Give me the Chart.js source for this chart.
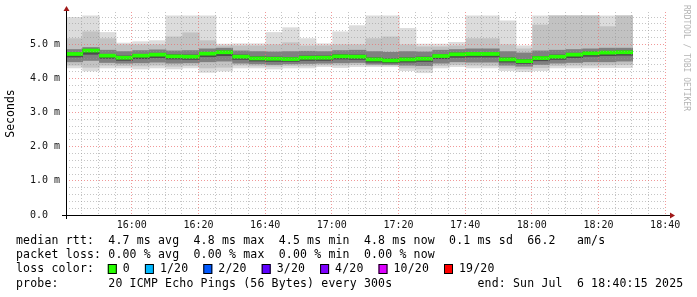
<!DOCTYPE html>
<html lang="en">
<head>
<meta charset="UTF-8">
<title>SmokePing - median rtt</title>
<script src="https://cdn.jsdelivr.net/npm/chart.js"></script>
<style>
  html, body { margin: 0; padding: 0; background: #fff; }
  #wrap { width: 697px; height: 297px; }
</style>
</head>
<body>
<div id="wrap"><canvas id="smoke" width="697" height="297"></canvas></div>
<script>
// time range of the graph, seconds since midnight
const startTime = 15 * 3600 + 40 * 60 + 15;   // 15:40:15
const endTime = 18 * 3600 + 40 * 60 + 15;     // 18:40:15
const stepSec = 300;                           // one probe round every 300s

// median rtt per round (ms)
const medianRtt = [4.72, 4.82, 4.67, 4.61, 4.67, 4.70, 4.65, 4.64, 4.73, 4.77, 4.64, 4.59, 4.58, 4.57, 4.61, 4.61, 4.65,
                   4.64, 4.56, 4.53, 4.56, 4.58, 4.66, 4.71, 4.72, 4.72, 4.56, 4.51, 4.60, 4.64, 4.70, 4.74, 4.76, 4.77];
// smoke: spread of the 20 pings of every round (ms)
const pingMax = [5.80, 5.85, 5.36, 5.05, 5.09, 5.12, 5.85, 5.85, 5.85, 5.02, 5.03, 5.03, 5.36, 5.50, 5.18, 5.03, 5.38,
                 5.56, 5.85, 5.85, 5.48, 5.02, 5.02, 5.07, 5.85, 5.85, 5.70, 4.97, 5.85, 5.85, 5.85, 5.85, 5.85, 5.85];
const pingHi90 = [5.18, 5.38, 5.18, 5.00, 5.00, 5.00, 5.23, 5.35, 5.12, 4.97, 4.97, 4.97, 5.00, 5.06, 4.97, 4.97, 5.00,
                  5.00, 5.18, 5.23, 5.00, 4.94, 4.94, 4.97, 5.18, 5.18, 5.00, 4.88, 5.58, 5.85, 5.85, 5.85, 5.53, 5.85];
const pingHi75 = [4.86, 4.92, 4.84, 4.80, 4.83, 4.85, 4.82, 4.83, 4.88, 4.90, 4.82, 4.80, 4.79, 4.80, 4.81, 4.80, 4.83,
                  4.84, 4.80, 4.78, 4.80, 4.79, 4.84, 4.86, 4.88, 4.88, 4.80, 4.76, 4.82, 4.84, 4.86, 4.88, 4.90, 4.90];
const pingHi60 = [4.77, 4.87, 4.72, 4.67, 4.72, 4.75, 4.71, 4.70, 4.78, 4.82, 4.70, 4.65, 4.64, 4.63, 4.67, 4.67, 4.71,
                  4.70, 4.62, 4.59, 4.62, 4.64, 4.71, 4.76, 4.77, 4.77, 4.62, 4.57, 4.66, 4.70, 4.75, 4.79, 4.81, 4.82];
const pingLo40 = [4.62, 4.70, 4.58, 4.52, 4.57, 4.60, 4.56, 4.55, 4.63, 4.66, 4.55, 4.50, 4.49, 4.49, 4.52, 4.52, 4.56,
                  4.55, 4.47, 4.45, 4.47, 4.49, 4.57, 4.61, 4.62, 4.62, 4.47, 4.43, 4.51, 4.55, 4.60, 4.64, 4.66, 4.67];
const pingLo25 = [4.48, 4.52, 4.46, 4.44, 4.45, 4.47, 4.44, 4.45, 4.48, 4.50, 4.44, 4.42, 4.40, 4.42, 4.43, 4.44, 4.45,
                  4.46, 4.41, 4.40, 4.38, 4.37, 4.44, 4.48, 4.47, 4.47, 4.38, 4.35, 4.40, 4.44, 4.46, 4.48, 4.48, 4.50];
const pingLo10 = [4.38, 4.32, 4.38, 4.37, 4.36, 4.38, 4.35, 4.37, 4.30, 4.32, 4.38, 4.36, 4.35, 4.37, 4.36, 4.39, 4.38,
                  4.40, 4.38, 4.38, 4.30, 4.27, 4.37, 4.40, 4.38, 4.37, 4.30, 4.27, 4.31, 4.37, 4.38, 4.38, 4.39, 4.40];
const pingMin = [4.30, 4.21, 4.30, 4.30, 4.27, 4.30, 4.27, 4.30, 4.17, 4.21, 4.30, 4.30, 4.27, 4.30, 4.30, 4.34, 4.31,
                 4.34, 4.34, 4.34, 4.22, 4.16, 4.30, 4.34, 4.30, 4.30, 4.22, 4.19, 4.22, 4.30, 4.30, 4.30, 4.31, 4.31];

// legend texts
const statLines = [
    'median rtt:  4.7 ms avg  4.8 ms max  4.5 ms min  4.8 ms now  0.1 ms sd  66.2   am/s',
    'packet loss: 0.00 % avg  0.00 % max  0.00 % min  0.00 % now'
];
const lossLabels = ['0', '1/20', '2/20', '3/20', '4/20', '10/20', '19/20'];
const lossColors = ['#26ff00', '#00b8ff', '#0059ff', '#5e00ff', '#7e00ff', '#dd00ff', '#ff0000'];
const probeText = '20 ICMP Echo Pings (56 Bytes) every 300s';
const endText = 'end: Sun Jul  6 18:40:15 2025';

const MONO = "'DejaVu Sans Mono', monospace";
const CHAR_W = 7.1;

function band(lo, hi) {
    return lo.map((v, i) => ({ x: startTime + stepSec * i + stepSec / 2, y: [v, hi[i]] }));
}

function hhmm(sec) {
    const h = Math.floor(sec / 3600), m = Math.floor(sec / 60) % 60;
    return String(h).padStart(2, '0') + ':' + String(m).padStart(2, '0');
}

function barSet(data, color, order) {
    return {
        data: data,
        backgroundColor: color,
        borderWidth: 0,
        grouped: false,
        barPercentage: 1.04,
        categoryPercentage: 1,
        order: order
    };
}

// text drawn in fixed character columns like rrdtool does
function monoText(ctx, text, x, y) {
    for (let i = 0; i < text.length; i++) {
        ctx.fillText(text[i], x + i * CHAR_W, y);
    }
}

const decor = {
    id: 'decor',
    afterDraw(chart) {
        const ctx = chart.ctx;
        const a = chart.chartArea;
        ctx.save();

        // axes
        ctx.strokeStyle = '#000';
        ctx.lineWidth = 1;
        ctx.beginPath();
        ctx.moveTo(a.left - 4, a.bottom + 0.5);
        ctx.lineTo(a.right + 4, a.bottom + 0.5);
        ctx.moveTo(a.left + 0.5, a.bottom + 4);
        ctx.lineTo(a.left + 0.5, a.top - 3);
        ctx.stroke();

        // arrow heads
        ctx.fillStyle = '#a01818';
        ctx.beginPath();
        ctx.moveTo(a.left + 0.5, a.top - 6);
        ctx.lineTo(a.left - 2.5, a.top - 1);
        ctx.lineTo(a.left + 3.5, a.top - 1);
        ctx.closePath();
        ctx.fill();
        ctx.beginPath();
        ctx.moveTo(a.right + 9, a.bottom + 0.5);
        ctx.lineTo(a.right + 4, a.bottom - 2.5);
        ctx.lineTo(a.right + 4, a.bottom + 3.5);
        ctx.closePath();
        ctx.fill();

        // unit label
        ctx.fillStyle = '#000';
        ctx.font = '11.5px ' + MONO;
        ctx.textBaseline = 'middle';
        ctx.textAlign = 'center';
        ctx.save();
        ctx.translate(11, (a.top + a.bottom) / 2);
        ctx.rotate(-Math.PI / 2);
        ctx.fillText('Seconds', 0, 0);
        ctx.restore();

        // watermark
        ctx.save();
        ctx.fillStyle = '#b4b4b4';
        ctx.font = '8px ' + MONO;
        ctx.textAlign = 'left';
        ctx.translate(686, 5);
        ctx.rotate(Math.PI / 2);
        ctx.fillText('RRDTOOL / TOBI OETIKER', 0, 0);
        ctx.restore();

        // legend
        ctx.textAlign = 'left';
        ctx.font = '11.5px ' + MONO;
        ctx.fillStyle = '#000';
        monoText(ctx, statLines[0], 16, 241);
        monoText(ctx, statLines[1], 16, 255);
        monoText(ctx, 'loss color:', 16, 269);
        let x = 16 + 13 * CHAR_W - 0.5;
        lossLabels.forEach((lbl, i) => {
            ctx.fillStyle = lossColors[i];
            ctx.fillRect(x, 264, 9, 10);
            ctx.strokeStyle = '#000';
            ctx.strokeRect(x + 0.5, 264.5, 8, 9);
            ctx.fillStyle = '#000';
            monoText(ctx, lbl, x + 15, 269);
            x += 15 + lbl.length * CHAR_W + 15;
        });
        monoText(ctx, 'probe:', 16, 284);
        monoText(ctx, probeText, 16 + 13 * CHAR_W, 284);
        monoText(ctx, endText, 16 + 65 * CHAR_W, 284);

        ctx.restore();
    }
};

const minorGrid = 'rgba(150,150,150,0.55)';
const majorGrid = 'rgba(235,110,110,0.7)';

new Chart(document.getElementById('smoke'), {
    type: 'bar',
    data: {
        datasets: [
            barSet(band(pingMin, pingMax), '#dcdcdc', 6),
            barSet(band(pingLo10, pingHi90), '#c2c2c2', 5),
            barSet(band(pingLo25, pingHi75), '#808080', 4),
            barSet(band(pingLo40, pingHi60), '#4c4c4c', 3),
            barSet(band(medianRtt.map(v => v - 0.055), medianRtt.map(v => v + 0.055)), '#26ff00', 1)
        ]
    },
    options: {
        responsive: false,
        animation: false,
        events: [],
        layout: { padding: { left: 0, top: 12, right: 31, bottom: 0 } },
        plugins: { legend: { display: false }, tooltip: { enabled: false } },
        scales: {
            x: {
                type: 'linear',
                min: startTime,
                max: endTime,
                offset: false,
                afterBuildTicks: s => {
                    const t = [];
                    for (let v = 15 * 3600 + 45 * 60; v <= endTime; v += stepSec) t.push({ value: v });
                    s.ticks = t;
                },
                afterFit: s => { s.height = 82; },
                grid: {
                    offset: false,
                    z: 1,
                    drawTicks: false,
                    color: c => (c.tick && c.tick.value % 1200 === 0) ? majorGrid : minorGrid
                },
                border: { display: false, dash: [1, 2] },
                ticks: {
                    autoSkip: false,
                    maxRotation: 0,
                    padding: 4,
                    color: '#111',
                    font: { family: MONO, size: 10 },
                    callback: v => v % 1200 === 0 ? hhmm(v) : ''
                }
            },
            y: {
                min: 0,
                max: 5.95,
                afterBuildTicks: s => {
                    const t = [];
                    for (let i = 0; i <= 29; i++) t.push({ value: i / 5 });
                    s.ticks = t;
                },
                afterFit: s => { s.width = 66; },
                grid: {
                    z: 1,
                    drawTicks: false,
                    color: c => {
                        const v = c.tick ? c.tick.value : 0;
                        if (v === 0) return 'rgba(0,0,0,0)';
                        return Math.abs(v - Math.round(v)) < 1e-6 ? majorGrid : minorGrid;
                    }
                },
                border: { display: false, dash: [1, 2] },
                ticks: {
                    autoSkip: false,
                    padding: 6,
                    color: '#111',
                    font: { family: MONO, size: 10 },
                    callback: v => {
                        if (Math.abs(v - Math.round(v)) > 1e-6) return '';
                        return v === 0 ? '0.0  ' : v.toFixed(1) + ' m';
                    }
                }
            }
        }
    },
    plugins: [decor]
});
</script>
</body>
</html>
